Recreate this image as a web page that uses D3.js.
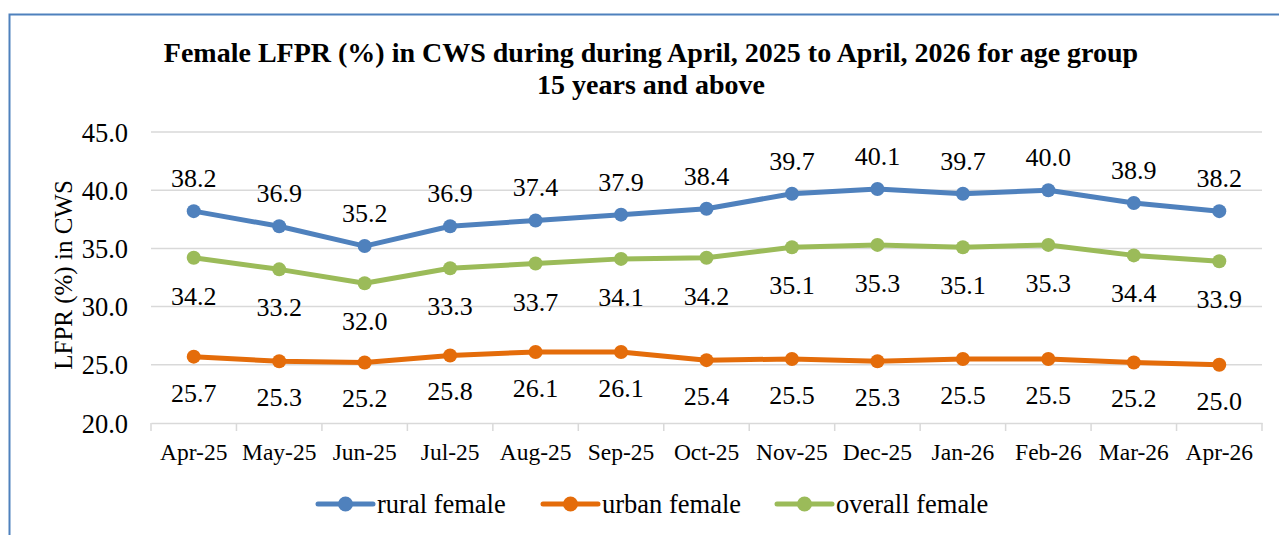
<!DOCTYPE html>
<html><head><meta charset="utf-8">
<script src="https://cdn.jsdelivr.net/npm/d3@7"></script>
<style>
html,body{margin:0;padding:0;background:#fff;}
svg{display:block;}
svg text{font-family:"Liberation Serif","Times New Roman",serif !important;fill:#000;}
</style></head>
<body>
<svg id="c" width="1279" height="535"></svg>
<script>
const months = ["Apr-25","May-25","Jun-25","Jul-25","Aug-25","Sep-25","Oct-25","Nov-25","Dec-25","Jan-26","Feb-26","Mar-26","Apr-26"];
const rural = [38.2,36.9,35.2,36.9,37.4,37.9,38.4,39.7,40.1,39.7,40.0,38.9,38.2];
const urban = [25.7,25.3,25.2,25.8,26.1,26.1,25.4,25.5,25.3,25.5,25.5,25.2,25.0];
const overall = [34.2,33.2,32.0,33.3,33.7,34.1,34.2,35.1,35.3,35.1,35.3,34.4,33.9];
const yTicks = [20,25,30,35,40,45];
const seriesNames = ["rural female","urban female","overall female"];
const title1 = "Female LFPR (%) in CWS during during April, 2025 to April, 2026 for age group";
const title2 = "15 years and above";
const yTitle = "LFPR (%) in CWS";

(function(){
const series = [
  {name: seriesNames[0], values: rural, color: "#4f81bd", dy: -24},
  {name: seriesNames[1], values: urban, color: "#e46c0a", dy: 45},
  {name: seriesNames[2], values: overall, color: "#9bbb59", dy: 47}
];

const svg = d3.select("#c");
svg.append("path").attr("d","M9.5,535 L9.5,14.5 L1279,14.5").attr("fill","none").attr("stroke","#4f81bd").attr("stroke-width",2);

const pl = 151, pr = 1262, pt = 132, pb = 423;
const x = d3.scaleBand().domain(months).range([pl,pr]);
const y = d3.scaleLinear().domain([20,45]).range([pb,pt]);

svg.append("g").selectAll("line").data(yTicks.slice(1)).join("line")
  .attr("x1",pl).attr("x2",pr).attr("y1",d=>y(d)).attr("y2",d=>y(d))
  .attr("stroke","#d9d9d9").attr("stroke-width",1.5);

const yAxis = svg.append("g").attr("transform",`translate(${pl},0)`)
  .call(d3.axisLeft(y).tickValues(yTicks).tickFormat(d3.format(".1f")).tickSize(0).tickPadding(23));
yAxis.select(".domain").remove();
yAxis.selectAll("text").attr("font-size",26.5).attr("dy","0.34em");

const xAxis = svg.append("g").attr("transform",`translate(0,${pb})`)
  .call(d3.axisBottom(x).tickSize(0).tickPadding(0));
xAxis.select(".domain").attr("stroke","#d9d9d9").attr("stroke-width",1.5);
xAxis.selectAll("text").attr("font-size",23.5).attr("y",37).attr("dy",0);
const bounds = months.map(m=>x(m)).concat([pr]);
svg.append("g").selectAll("line").data(bounds).join("line")
  .attr("x1",d=>d).attr("x2",d=>d).attr("y1",pb).attr("y2",pb+8)
  .attr("stroke","#d9d9d9").attr("stroke-width",1.5);

const cx = m => x(m) + x.bandwidth()/2;
const line = d3.line().x((d,i)=>cx(months[i])).y(d=>y(d));

series.forEach(s=>{
  const g = svg.append("g");
  g.append("path").attr("d",line(s.values)).attr("fill","none").attr("stroke",s.color).attr("stroke-width",5).attr("stroke-linejoin","round");
  g.selectAll("circle").data(s.values).join("circle")
    .attr("cx",(d,i)=>cx(months[i])).attr("cy",d=>y(d)).attr("r",7).attr("fill",s.color);
  g.selectAll("text").data(s.values).join("text")
    .attr("x",(d,i)=>cx(months[i])).attr("y",d=>y(d)+s.dy)
    .attr("text-anchor","middle")
    .attr("font-size",26).text(d=>d.toFixed(1));
});

svg.append("text").attr("x",651).attr("y",62).attr("text-anchor","middle")
  .attr("font-size",28).attr("font-weight","bold").text(title1);
svg.append("text").attr("x",651).attr("y",94).attr("text-anchor","middle")
  .attr("font-size",28).attr("font-weight","bold").text(title2);

svg.append("text").attr("transform",`translate(72,275) rotate(-90)`).attr("text-anchor","middle")
  .attr("font-size",25).text(yTitle);

const legX = [318, 543, 777];
series.forEach((s,i)=>{
  const g = svg.append("g").attr("transform",`translate(${legX[i]},504)`);
  g.append("line").attr("x1",0).attr("x2",55).attr("y1",0).attr("y2",0).attr("stroke",s.color).attr("stroke-width",5).attr("stroke-linecap","round");
  g.append("circle").attr("cx",27.5).attr("cy",0).attr("r",7.5).attr("fill",s.color);
  g.append("text").attr("x",59).attr("y",9).attr("font-size",26.5).text(s.name);
});
})();
</script>
</body></html>
